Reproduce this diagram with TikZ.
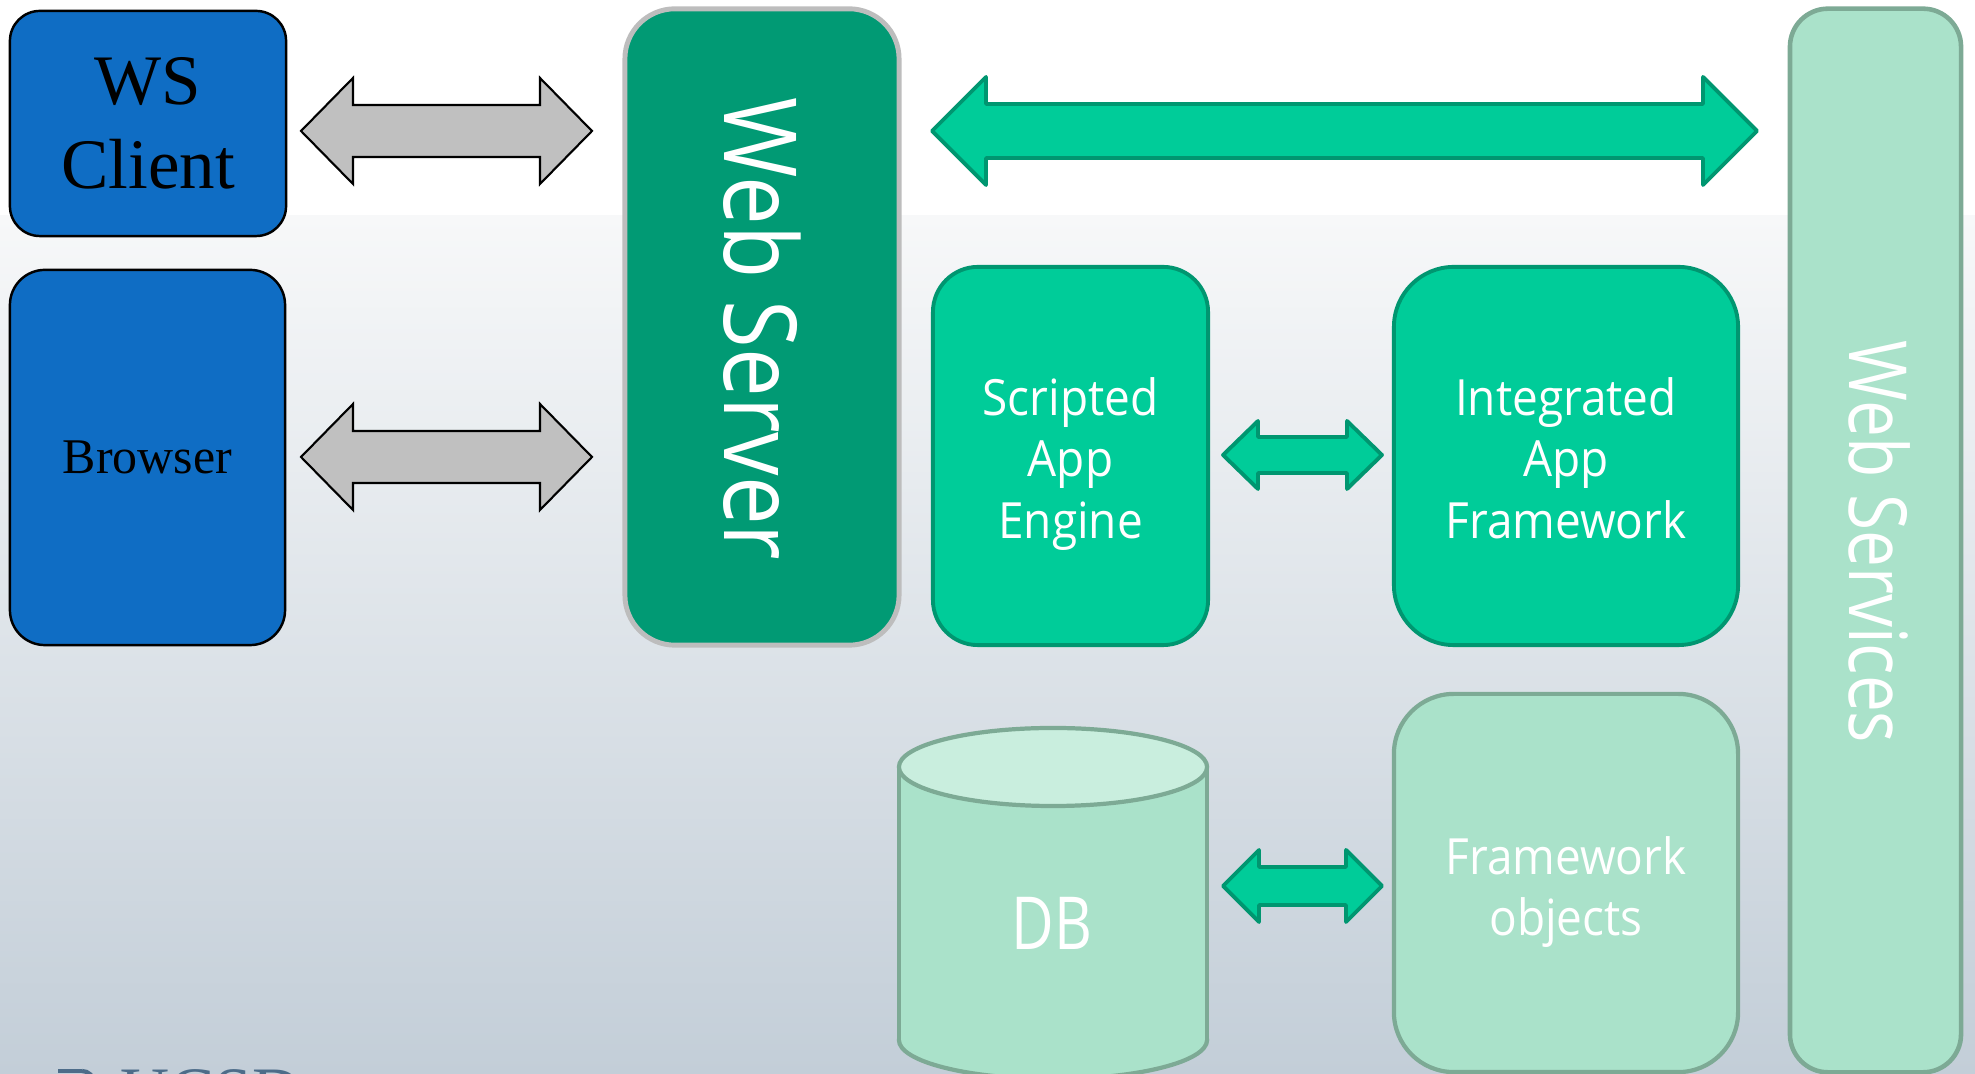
\documentclass[tikz,border=0pt]{standalone}
\usepackage{fontspec}
\setmainfont{Liberation Serif}
\newfontfamily\boxsans[FakeStretch=0.92]{Open Sans}
\newfontfamily\serversans[FakeStretch=0.86]{Open Sans}
\newfontfamily\servicesans[FakeStretch=0.82]{Open Sans}
\newfontfamily\dbsans[FakeStretch=0.8]{Open Sans}
\usetikzlibrary{calc}

\definecolor{clientblue}{HTML}{0F6DC4}
\definecolor{serverteal}{HTML}{019A74}
\definecolor{serverrim}{HTML}{BDBDBD}
\definecolor{mint}{HTML}{00CC99}
\definecolor{mintrim}{HTML}{009670}
\definecolor{pale}{HTML}{AAE2CA}
\definecolor{palerim}{HTML}{7DAA95}
\definecolor{paletop}{HTML}{C9EEDE}
\definecolor{arrowgray}{HTML}{C0C0C0}
\definecolor{bgtop}{HTML}{F7F8F9}
\definecolor{bgmid}{HTML}{E4E9ED}
\definecolor{bgbot}{HTML}{C3CED8}
\definecolor{logoslate}{HTML}{4D6C89}

% double-headed block arrow between two tips on the same horizontal line
% [style]{left tip}{right tip}{head length}{head half-width}{shaft half-width}
\newcommand\dblarrow[6][]{%
  \filldraw[#1] (#2) -- ($(#2)+(#4,-#5)$) -- ($(#2)+(#4,-#6)$)
    -- ($(#3)+(-#4,-#6)$) -- ($(#3)+(-#4,-#5)$) -- (#3)
    -- ($(#3)+(-#4,#5)$) -- ($(#3)+(-#4,#6)$)
    -- ($(#2)+(#4,#6)$) -- ($(#2)+(#4,#5)$) -- cycle;}

\begin{document}
\begin{tikzpicture}[x=0.01cm, y=-0.01cm,
  clientbox/.style={draw=black, line width=0.7pt, fill=clientblue,
    inner sep=0pt, align=center, text=black},
  serverbox/.style={draw=serverrim, line width=1.4pt, fill=serverteal, inner sep=0pt},
  minttile/.style={draw=mintrim, line width=1.1pt, fill=mint, inner sep=0pt},
  paletile/.style={draw=palerim, line width=1.2pt, fill=pale, inner sep=0pt},
  tiletext/.style={inner sep=0pt, align=center, text=white, text depth=0pt,
    font=\boxsans\fontsize{14.2}{17.6}\selectfont},
  grayarrow/.style={fill=arrowgray, draw=black, line width=0.6pt, line join=miter},
  mintarrow/.style={fill=mint, draw=mintrim, line width=1.1pt, line join=round},
  dbline/.style={draw=palerim, line width=1.2pt}]

\useasboundingbox (0,0) rectangle (1975,1074);
\begin{scope}
\clip (0,0) rectangle (1975,1074);

% backdrop
\fill[white] (0,0) rectangle (1975,216);
\shade[top color=bgtop, middle color=bgmid, bottom color=bgbot] (0,216) rectangle (1975,1074);

% clients
\node[clientbox, rounded corners=0.3cm, minimum width=2.76cm, minimum height=2.25cm,
  font=\fontsize{20.2}{23.8}\selectfont] (wsclient) at (148,123.5) {WS\\Client};
\node[clientbox, rounded corners=0.35cm, minimum width=2.75cm, minimum height=3.75cm,
  font=\fontsize{14.2}{17}\selectfont] (browser) at (147.5,457.5) {Browser};

% web server
\node[serverbox, rounded corners=0.5cm, minimum width=2.74cm, minimum height=6.36cm]
  (webserver) at (762,327) {};
\node[rotate=-90, text=white, inner sep=0pt,
  font=\serversans\fontsize{28.7}{30}\selectfont] (webservertext) at (762,329) {Web Server};

% application tiers
\node[minttile, rounded corners=0.45cm, minimum width=2.75cm, minimum height=3.78cm]
  (engine) at (1070.5,456) {};
\node[tiletext] (enginetext) at ($(engine.center)+(0,2)$) {Scripted\\App\\Engine};
\node[minttile, rounded corners=0.6cm, minimum width=3.44cm, minimum height=3.78cm]
  (framework) at (1566,456) {};
\node[tiletext] (frameworktext) at ($(framework.center)+(0,2)$) {Integrated\\App\\Framework};
\node[paletile, rounded corners=0.6cm, minimum width=3.44cm, minimum height=3.78cm]
  (objects) at (1566,883) {};
\node[tiletext] (objectstext) at ($(objects.center)+(0,3)$) {Framework\\objects};

% web services column
\node[paletile, line width=1.3pt, rounded corners=0.38cm, minimum width=1.71cm,
  minimum height=10.63cm] (services) at (1875.5,540.5) {};
\node[rotate=-90, text=white, inner sep=0pt,
  font=\servicesans\fontsize{22.8}{25}\selectfont] (servicestext) at (1880,542) {Web Services};

% database cylinder
\filldraw[fill=pale, dbline] (1053,1040) ellipse [x radius=1.54cm, y radius=0.39cm];
\fill[pale] (899,767) rectangle (1207,1040);
\draw[dbline] (899,767) -- (899,1040);
\draw[dbline] (1207,767) -- (1207,1040);
\filldraw[fill=paletop, dbline] (1053,767) ellipse [x radius=1.54cm, y radius=0.39cm];
\node[text=white, inner sep=0pt, font=\dbsans\fontsize{20.8}{22}\selectfont]
  (db) at (1052,923) {DB};

% connectors
\coordinate (clientR) at (301,131);  \coordinate (serverL1) at (592,131);
\coordinate (browserR) at (301,457); \coordinate (serverL2) at (592,457);
\coordinate (serverR) at (932,131);  \coordinate (servicesL) at (1757,131);
\coordinate (engineR) at (1223,455); \coordinate (frameworkL) at (1382,455);
\coordinate (dbR) at (1223,886);     \coordinate (objectsL) at (1382,886);

\dblarrow[grayarrow]{clientR}{serverL1}{52}{53}{26}
\dblarrow[grayarrow]{browserR}{serverL2}{52}{53}{26}
\dblarrow[mintarrow]{serverR}{servicesL}{54}{54}{27}
\dblarrow[mintarrow]{engineR}{frameworkL}{35}{34}{18}
\dblarrow[mintarrow]{dbR}{objectsL}{36}{36}{19}

% campus logo, mostly below the edge
\fill[logoslate] (58,1069) rectangle (82,1073);
\draw[logoslate, line width=1.2pt] (82,1071) to[out=0, in=90] (94,1083);
\node[anchor=north west, inner sep=0pt, text=logoslate,
  font=\fontsize{19.3}{20}\selectfont] (logo) at (120,1069) {UCSD};
\end{scope}
\end{tikzpicture}
\end{document}
